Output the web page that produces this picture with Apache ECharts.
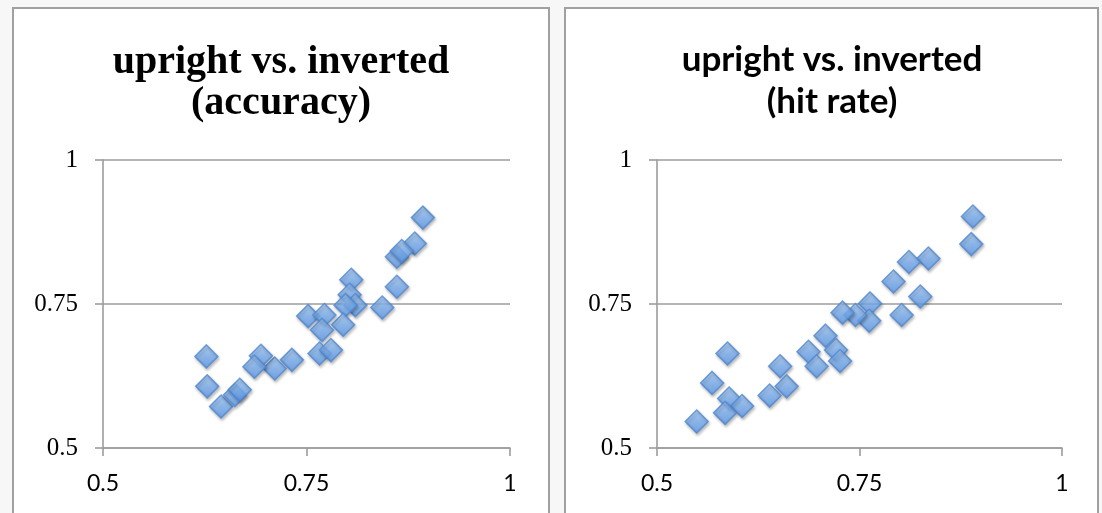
<!DOCTYPE html>
<html>
<head>
<meta charset="utf-8">
<script src="https://cdn.jsdelivr.net/npm/echarts@6/dist/echarts.min.js"></script>
<style>
html,body{margin:0;padding:0;background:#f7f7f7;}
#c{width:1102px;height:513px;}
</style>
</head>
<body>
<div id="c"></div>
<script>
// Left chart: upright vs. inverted (accuracy)
const accUpright = [0.893,0.883,0.861,0.867,0.861,0.805,0.803,0.810,0.798,0.843,0.795,0.752,0.772,0.769,0.766,0.780,0.732,0.711,0.694,0.686,0.627,0.628,0.645,0.662,0.668];
const accInverted = [0.900,0.855,0.832,0.842,0.780,0.792,0.766,0.748,0.748,0.744,0.714,0.729,0.731,0.705,0.664,0.670,0.653,0.638,0.660,0.641,0.659,0.607,0.572,0.592,0.601];
// Right chart: upright vs. inverted (hit rate)
const hitUpright = [0.890,0.888,0.835,0.811,0.792,0.825,0.802,0.763,0.762,0.745,0.729,0.708,0.721,0.726,0.687,0.697,0.652,0.660,0.639,0.587,0.568,0.589,0.605,0.584,0.549];
const hitInverted = [0.902,0.854,0.829,0.823,0.789,0.763,0.731,0.751,0.721,0.731,0.735,0.695,0.670,0.651,0.667,0.642,0.642,0.607,0.591,0.664,0.613,0.586,0.573,0.561,0.546];
const tickValues = [0.5, 0.75, 1];
const titles = ['upright vs. inverted\n(accuracy)', 'upright vs. inverted\n(hit rate)'];

const pairs = (xs, ys) => xs.map((x, i) => [x, ys[i]]);
const lineCol = '#9c9c9c';
const fmt = v => (tickValues.indexOf(v) >= 0 ? String(v) : '');

function xAxis(idx) {
  return {
    gridIndex: idx, type: 'value', min: 0.5, max: 1, interval: 0.25,
    axisLine: {show: true, lineStyle: {color: lineCol, width: 1.6}},
    axisTick: {show: true, inside: false, length: 8, lineStyle: {color: lineCol, width: 1.6}},
    splitLine: {show: false},
    axisLabel: {margin: 24, fontFamily: 'Lato', fontSize: 23, color: '#000', formatter: fmt}
  };
}
function yAxis(idx) {
  return {
    gridIndex: idx, type: 'value', min: 0.5, max: 1, interval: 0.25,
    axisLine: {show: true, lineStyle: {color: lineCol, width: 1.6}},
    axisTick: {show: true, inside: false, length: 8, lineStyle: {color: lineCol, width: 1.6}},
    splitLine: {show: true, lineStyle: {color: lineCol, width: 1.6}},
    axisLabel: {margin: 25, fontFamily: 'Liberation Serif', fontSize: 25, color: '#000', formatter: fmt}
  };
}
const markerStyle = {
  color: new echarts.graphic.LinearGradient(0, 0, 0, 1, [
    {offset: 0, color: '#acd0fa'},
    {offset: 0.5, color: '#7cb0f0'},
    {offset: 1, color: '#5c97e8'}
  ]),
  borderColor: '#4d87d2',
  borderWidth: 1.5,
  shadowBlur: 3,
  shadowOffsetX: 1,
  shadowOffsetY: 2,
  shadowColor: 'rgba(0,0,0,0.3)'
};

const chart = echarts.init(document.getElementById('c'), null, {renderer: 'canvas'});
chart.setOption({
  backgroundColor: '#f7f7f7',
  animation: false,
  graphic: [
    {type: 'rect', z: -10, shape: {x: 13, y: 8, width: 536, height: 530},
     style: {fill: '#ffffff', stroke: '#a0a0a0', lineWidth: 2}},
    {type: 'rect', z: -10, shape: {x: 565, y: 8, width: 533, height: 530},
     style: {fill: '#ffffff', stroke: '#a0a0a0', lineWidth: 2}}
  ],
  title: [
    {text: titles[0], left: 276, top: 37, textAlign: 'center',
     textStyle: {fontFamily: 'Liberation Serif', fontWeight: 'bold', fontSize: 40, lineHeight: 41, color: '#000'}},
    {text: titles[1], left: 827, top: 34, textAlign: 'center',
     textStyle: {fontFamily: 'Lato', fontWeight: 'bold', fontSize: 35, lineHeight: 42, color: '#000'}}
  ],
  grid: [
    {left: 103, right: 592, top: 160, bottom: 65},
    {left: 657, right: 40, top: 160, bottom: 65}
  ],
  xAxis: [xAxis(0), xAxis(1)],
  yAxis: [yAxis(0), yAxis(1)],
  series: [
    {type: 'scatter', xAxisIndex: 0, yAxisIndex: 0, symbol: 'diamond', symbolSize: 23,
     itemStyle: markerStyle, data: pairs(accUpright, accInverted)},
    {type: 'scatter', xAxisIndex: 1, yAxisIndex: 1, symbol: 'diamond', symbolSize: 23,
     itemStyle: markerStyle, data: pairs(hitUpright, hitInverted)}
  ]
});
</script>
</body>
</html>
